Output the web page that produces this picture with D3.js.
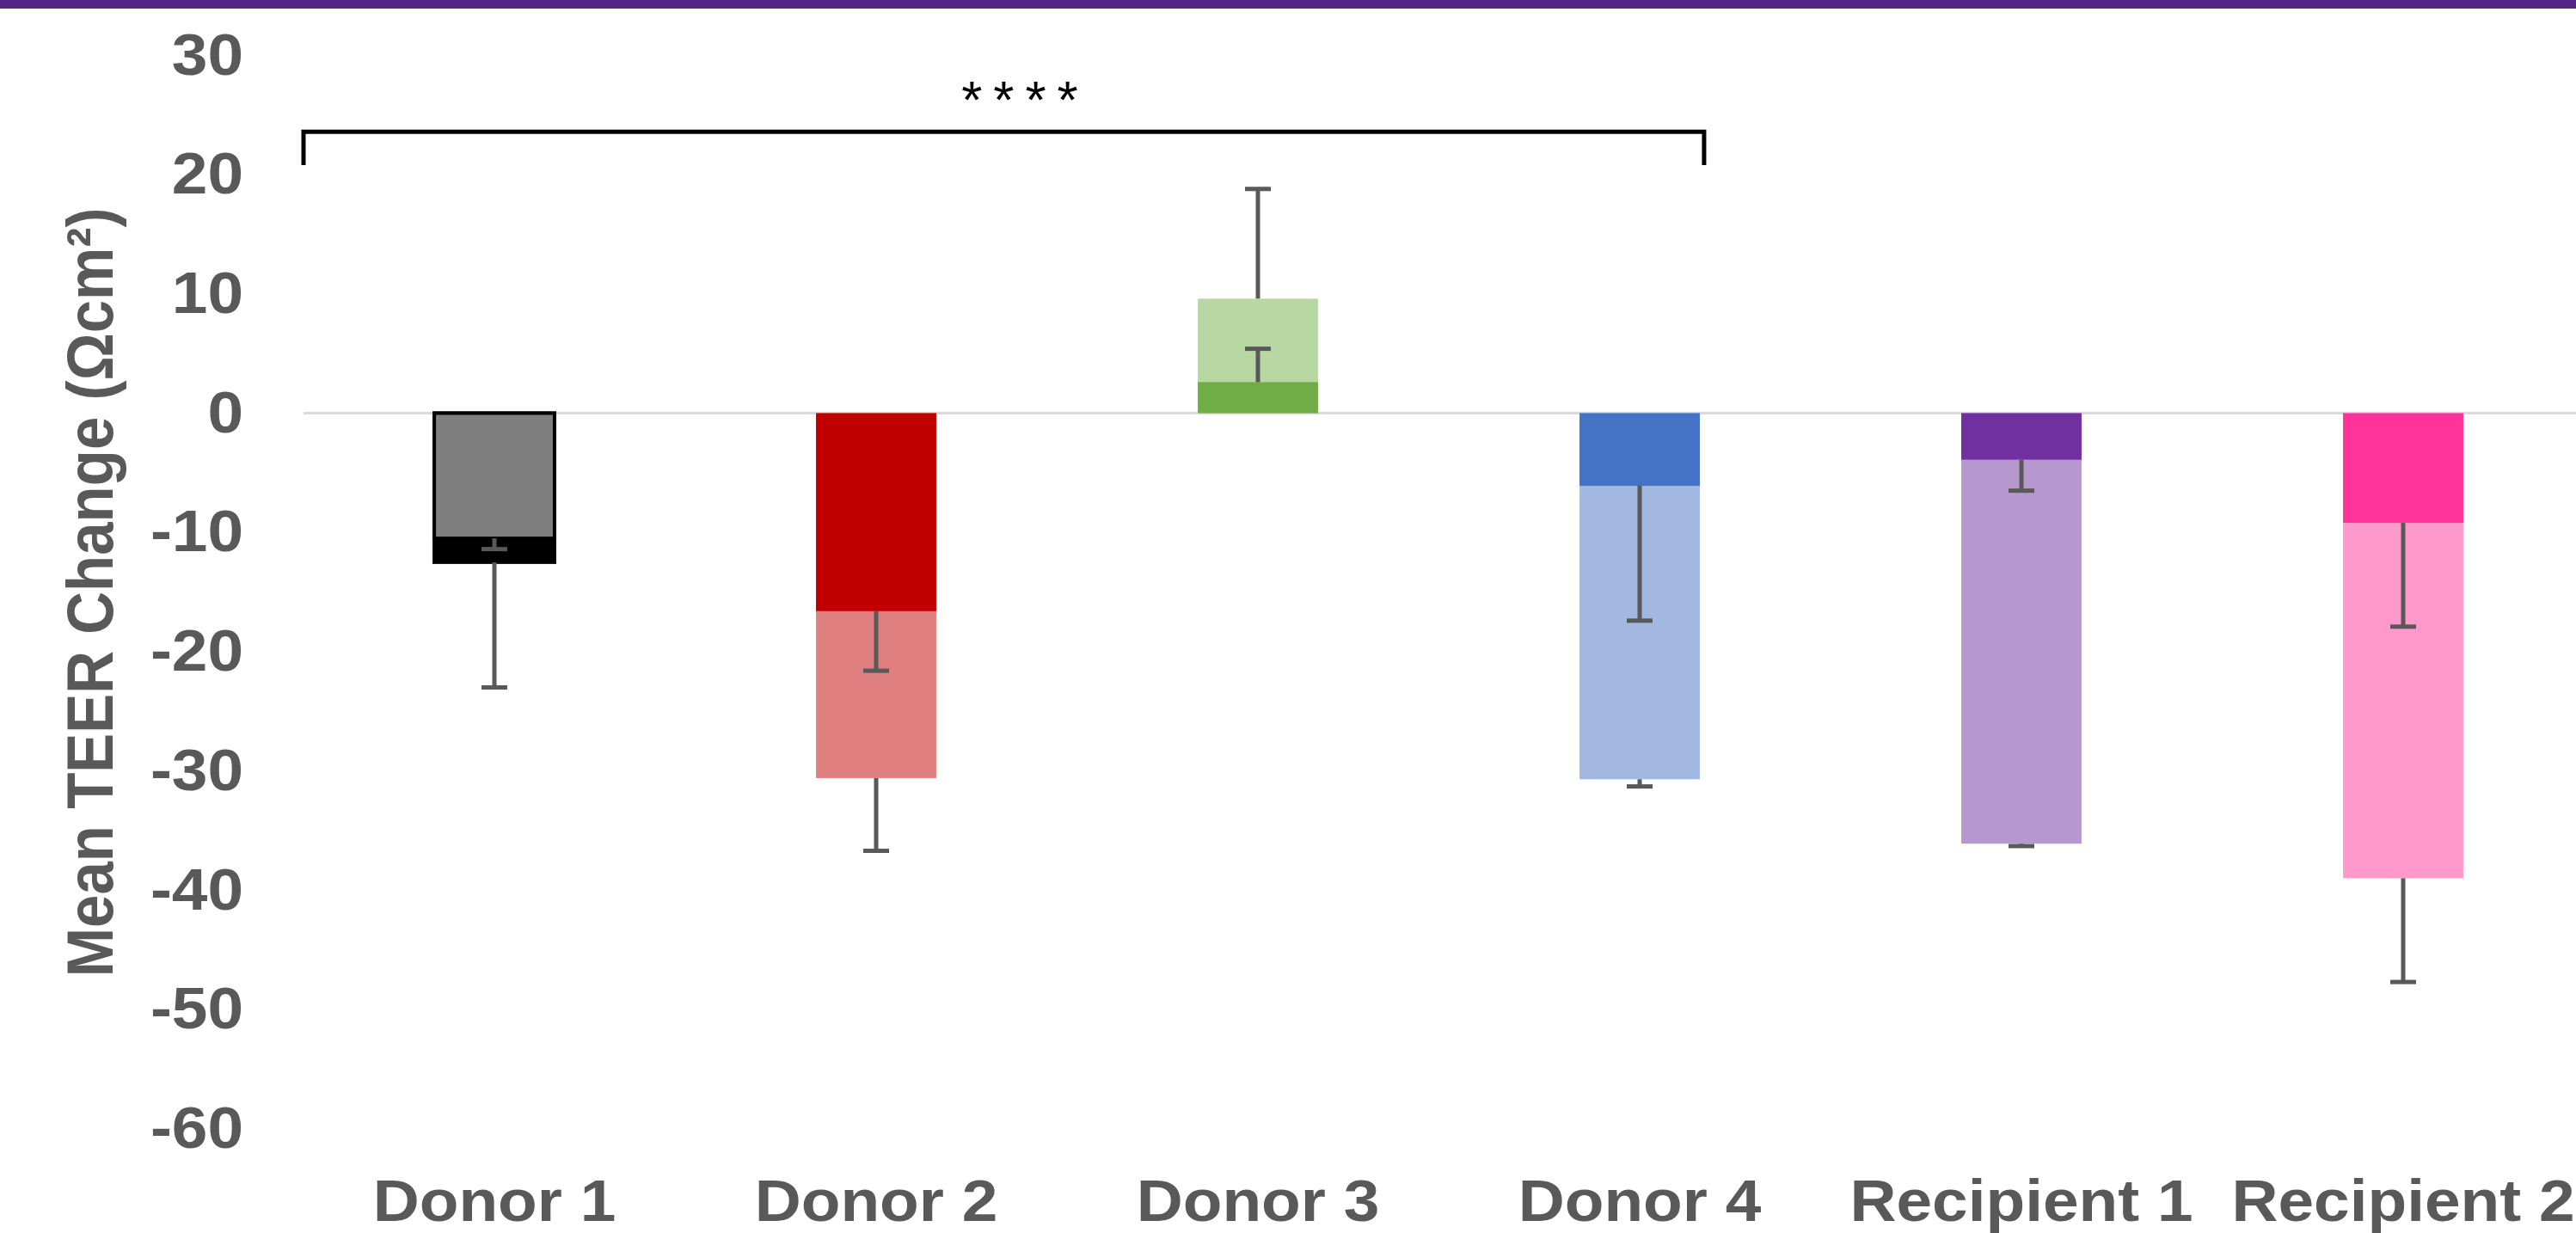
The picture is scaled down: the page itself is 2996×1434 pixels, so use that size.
<!DOCTYPE html>
<html>
<head>
<meta charset="utf-8">
<script src="https://cdn.jsdelivr.net/npm/d3@7"></script>
<style>
  body { margin: 0; background: #fff; }
  .container { width: 2996px; height: 1434px; overflow: hidden; }
</style>
</head>
<body>
<div class="container"></div>
<script>

// data
var categories = ["Donor 1", "Donor 2", "Donor 3", "Donor 4", "Recipient 1", "Recipient 2"];
var backValues = [-12.5, -30.6, 9.6, -30.7, -36.1, -39.0];
var backErrors = [10.5, 6.1, 9.2, 0.6, 0.2, 8.7];
var frontValues = [-10.5, -16.6, 2.6, -6.1, -3.9, -9.2];
var frontErrors = [0.9, 5.0, 2.8, 11.3, 2.6, 8.7];
var backColors = ["#000000", "#e07f7f", "#b7d7a3", "#a2b8e0", "#b698cf", "#ff99cc"];
var frontColors = ["#7f7f7f", "#c00000", "#70ad47", "#4472c4", "#7030a0", "#ff3399"];
var yTicks = [30, 20, 10, 0, -10, -20, -30, -40, -50, -60];
var sigLabel = "****";
var sigTop = 23.6, sigDrop = 20.8;

var W = 2996, H = 1434;
var grey = "#595959";
var stretch = 1.1; // the source picture is a little wider than tall

function makeStage(w, h) {
	var stage = d3.select(".container")
				  .append("svg")
				  .attr("width", w)
				  .attr("height", h)
				  .style("display", "block");
	stage.append("rect")
		 .attr("width", w).attr("height", h)
		 .attr("fill", "#fff");
	return stage;
}

var stage = makeStage(W, H);

// purple band on top
stage.append("rect")
	 .attr("x", 0).attr("y", 0)
	 .attr("width", W).attr("height", 10)
	 .attr("fill", "#522785");

var x = d3.scaleBand()
		  .domain(categories)
		  .range([353, 3017])
		  .paddingInner(0.685)
		  .paddingOuter(0.3425);

var y = d3.scaleLinear()
		  .domain([-60, 30])
		  .range([1312.7, 64.4]);

// y axis labels (plain hyphen, like the source)
var yAxis = stage.append("g")
				 .attr("transform", "translate(353,0)")
				 .call(d3.axisLeft(y).tickValues(yTicks).tickSize(0).tickFormat(function (d) { return String(d); }));
yAxis.select(".domain").remove();
yAxis.selectAll("text")
	 .attr("x", -70 / stretch)
	 .attr("transform", "scale(" + stretch + ",1)")
	 .style("font-family", "'Liberation Sans', Arial, sans-serif")
	 .style("font-weight", "bold")
	 .style("font-size", "68px")
	 .attr("fill", grey);

// axis title
stage.append("g")
	 .attr("transform", "translate(131,689) scale(" + stretch + ",1) rotate(-90)")
	 .append("text")
	 .attr("text-anchor", "middle")
	 .style("font-family", "'Liberation Sans', Arial, sans-serif")
	 .style("font-weight", "bold")
	 .style("font-size", "69px")
	 .attr("fill", grey)
	 .text("Mean TEER Change (\u03A9cm\u00B2)");

// zero line
stage.append("line")
	 .attr("x1", x.range()[0]).attr("x2", W)
	 .attr("y1", y(0)).attr("y2", y(0))
	 .attr("stroke", "#d9d9d9")
	 .attr("stroke-width", 3);

function drawBars(values, colors, outline) {
	stage.append("g")
		 .selectAll("rect")
		 .data(categories)
		 .join("rect")
		 .attr("x", function (d) { return x(d); })
		 .attr("width", x.bandwidth())
		 .attr("y", function (d, i) { return Math.min(y(0), y(values[i])); })
		 .attr("height", function (d, i) { return Math.abs(y(values[i]) - y(0)); })
		 .attr("fill", function (d, i) { return colors[i]; })
		 .attr("stroke", function (d, i) { return outline[i] ? "#000" : "none"; })
		 .attr("stroke-width", 4);
}

function drawErrors(values, errors) {
	var g = stage.append("g");
	categories.forEach(function (c, i) {
		var cx = x(c) + x.bandwidth() / 2;
		var v = values[i];
		var end = v < 0 ? v - errors[i] : v + errors[i];
		g.append("line")
		 .attr("x1", cx).attr("x2", cx)
		 .attr("y1", y(v)).attr("y2", y(end))
		 .attr("stroke", grey).attr("stroke-width", 5);
		g.append("line")
		 .attr("x1", cx - 15).attr("x2", cx + 15)
		 .attr("y1", y(end)).attr("y2", y(end))
		 .attr("stroke", grey).attr("stroke-width", 5);
	});
}

drawBars(backValues, backColors, [true, false, false, false, false, false]);
drawErrors(backValues, backErrors);
drawBars(frontValues, frontColors, [true, false, false, false, false, false]);
drawErrors(frontValues, frontErrors);

// category labels
categories.forEach(function (c) {
	stage.append("g")
		 .attr("transform", "translate(" + (x(c) + x.bandwidth() / 2) + ",1420) scale(" + stretch + ",1)")
		 .append("text")
		 .attr("text-anchor", "middle")
		 .style("font-family", "'Liberation Sans', Arial, sans-serif")
		 .style("font-weight", "bold")
		 .style("font-size", "68px")
		 .attr("fill", grey)
		 .text(c);
});

// significance bracket, Donor 1 .. Donor 4
var bx1 = x.range()[0];
var bx2 = x("Donor 4") + x.bandwidth() + 5;
stage.append("path")
	 .attr("d", "M" + bx1 + "," + y(sigDrop) + "V" + y(sigTop) + "H" + bx2 + "V" + y(sigDrop))
	 .attr("fill", "none")
	 .attr("stroke", "#000")
	 .attr("stroke-width", 5);

stage.append("text")
	 .attr("x", (bx1 + bx2) / 2 + 25)
	 .attr("y", 137)
	 .attr("text-anchor", "middle")
	 .style("font-family", "'Liberation Sans', Arial, sans-serif")
	 .style("font-size", "62px")
	 .style("letter-spacing", "13px")
	 .attr("fill", "#000")
	 .text(sigLabel);

</script>
</body>
</html>
